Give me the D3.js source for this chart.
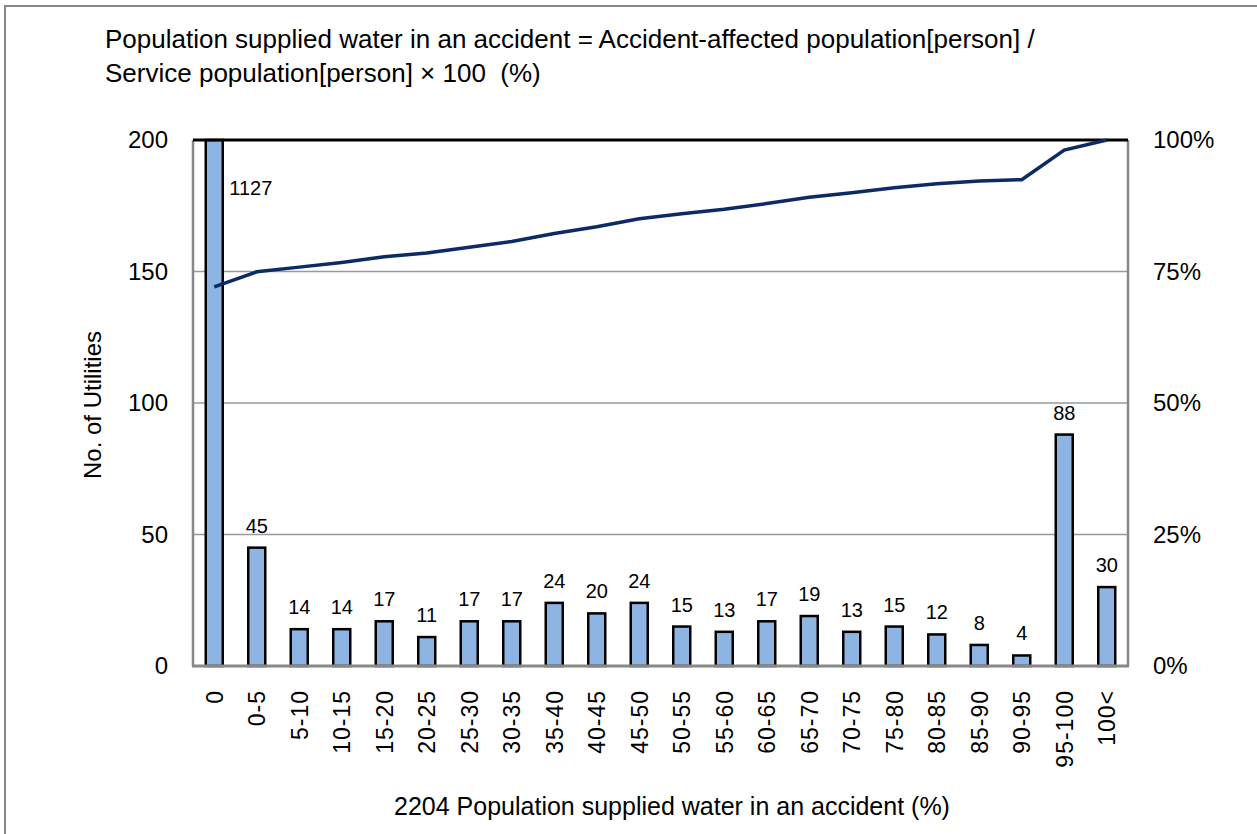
<!DOCTYPE html>
<html><head><meta charset="utf-8">
<script src="https://cdn.jsdelivr.net/npm/d3@7"></script>
<style>body{margin:0;background:#fff}svg{display:block;font-family:"Liberation Sans",Arial,sans-serif}</style>
</head><body><svg id="c" width="1257" height="834"></svg>
<script>
const categories=["0","0-5","5-10","10-15","15-20","20-25","25-30","30-35","35-40","40-45","45-50","50-55","55-60","60-65","65-70","70-75","75-80","80-85","85-90","90-95","95-100","100<"];
const counts=[1127,45,14,14,17,11,17,17,24,20,24,15,13,17,19,13,15,12,8,4,88,30];
const cumulative=[0.7206,0.7494,0.7583,0.7673,0.7781,0.7852,0.7960,0.8069,0.8223,0.8350,0.8504,0.8600,0.8683,0.8792,0.8913,0.8996,0.9092,0.9169,0.9220,0.9246,0.9808,1.0];
const leftTicks=[0,50,100,150,200];
const rightTicks=[0,0.25,0.5,0.75,1];

const FONT="Liberation Sans, Arial, sans-serif";
const svg=d3.select("#c");
const L=193,R=1128,T=140,B=666;
svg.append("rect").attr("x",5).attr("y",6).attr("width",1260).attr("height",840).attr("fill","#fff").attr("stroke","#888").attr("stroke-width",2);

const x=d3.scaleBand().domain(categories).range([L,R]);
const y=d3.scaleLinear().domain([0,200]).range([B,T]);
const y2=d3.scaleLinear().domain([0,1]).range([B,T]);

// gridlines
svg.append("g").selectAll("line").data(leftTicks.filter(d=>d>0&&d<200)).join("line")
 .attr("x1",L).attr("x2",R).attr("y1",d=>y(d)).attr("y2",d=>y(d)).attr("stroke","#999").attr("stroke-width",1.5);

// bars
const bw=17;
svg.append("g").selectAll("rect").data(counts).join("rect")
 .attr("x",(d,i)=>x(categories[i])+x.bandwidth()/2-bw/2)
 .attr("y",d=>y(Math.min(d,200)))
 .attr("width",bw)
 .attr("height",d=>B-y(Math.min(d,200)))
 .attr("fill","#8DB4E2").attr("stroke","#000").attr("stroke-width",2.5);

// frame
svg.append("line").attr("x1",L).attr("x2",L).attr("y1",T).attr("y2",B).attr("stroke","#888").attr("stroke-width",2.5);
svg.append("line").attr("x1",R).attr("x2",R).attr("y1",T).attr("y2",B).attr("stroke","#888").attr("stroke-width",2.5);
svg.append("line").attr("x1",L-1).attr("x2",R+1).attr("y1",B).attr("y2",B).attr("stroke","#888").attr("stroke-width",3);
svg.append("line").attr("x1",L).attr("x2",R).attr("y1",T).attr("y2",T).attr("stroke","#000").attr("stroke-width",3);

// line
const line=d3.line().x((d,i)=>x(categories[i])+x.bandwidth()/2).y(d=>y2(d));
svg.append("path").datum(cumulative).attr("d",line).attr("fill","none").attr("stroke","#0B2A66").attr("stroke-width",3.5);

// axes labels
const yAx=d3.axisLeft(y).tickValues(leftTicks).tickSize(0).tickPadding(0);
const gl=svg.append("g").attr("transform",`translate(${L-25},0)`).call(yAx);
gl.select(".domain").remove();
gl.selectAll("text").attr("font-size",24).attr("fill","#000").attr("font-family",FONT);

const y2Ax=d3.axisRight(y2).tickValues(rightTicks).tickFormat(d3.format(".0%")).tickSize(0).tickPadding(0);
const gr=svg.append("g").attr("transform",`translate(${R+25},0)`).call(y2Ax);
gr.select(".domain").remove();
gr.selectAll("text").attr("font-size",24).attr("fill","#000").attr("font-family",FONT);

const xAx=d3.axisBottom(x).tickSize(0).tickPadding(0);
const gx=svg.append("g").attr("transform",`translate(0,${B})`).call(xAx);
gx.select(".domain").remove();
gx.selectAll("text").attr("font-size",23).attr("fill","#000").attr("font-family",FONT)
 .attr("letter-spacing",1)
 .attr("text-anchor","end").attr("dy",null).attr("y",0).attr("x",0)
 .attr("transform","translate(8.5,24) rotate(-90)");

// data labels
svg.append("g").selectAll("text").data(counts).join("text")
 .attr("x",(d,i)=> d>200 ? x(categories[i])+x.bandwidth()/2+15 : x(categories[i])+x.bandwidth()/2)
 .attr("y",d=> d>200 ? y(200)+55 : y(d)-15)
 .attr("text-anchor",d=>d>200?"start":"middle")
 .attr("font-size",20).attr("fill","#000").attr("font-family",FONT)
 .text(d=>d);

// titles
const tt=svg.append("text").attr("font-size",26).attr("fill","#000").attr("font-family",FONT).style("white-space","pre");
tt.append("tspan").attr("x",105).attr("y",48).text("Population supplied water in an accident = Accident-affected population[person] /");
tt.append("tspan").attr("x",105).attr("y",82).text("Service population[person] \u00d7 100  (%)");

svg.append("text").attr("transform","translate(101,405) rotate(-90)").attr("text-anchor","middle").attr("font-size",24).attr("font-family",FONT).text("No. of Utilities");
svg.append("text").attr("x",672).attr("y",815).attr("text-anchor","middle").attr("font-size",25).attr("font-family",FONT).text("2204 Population supplied water in an accident (%)");
</script></body></html>
